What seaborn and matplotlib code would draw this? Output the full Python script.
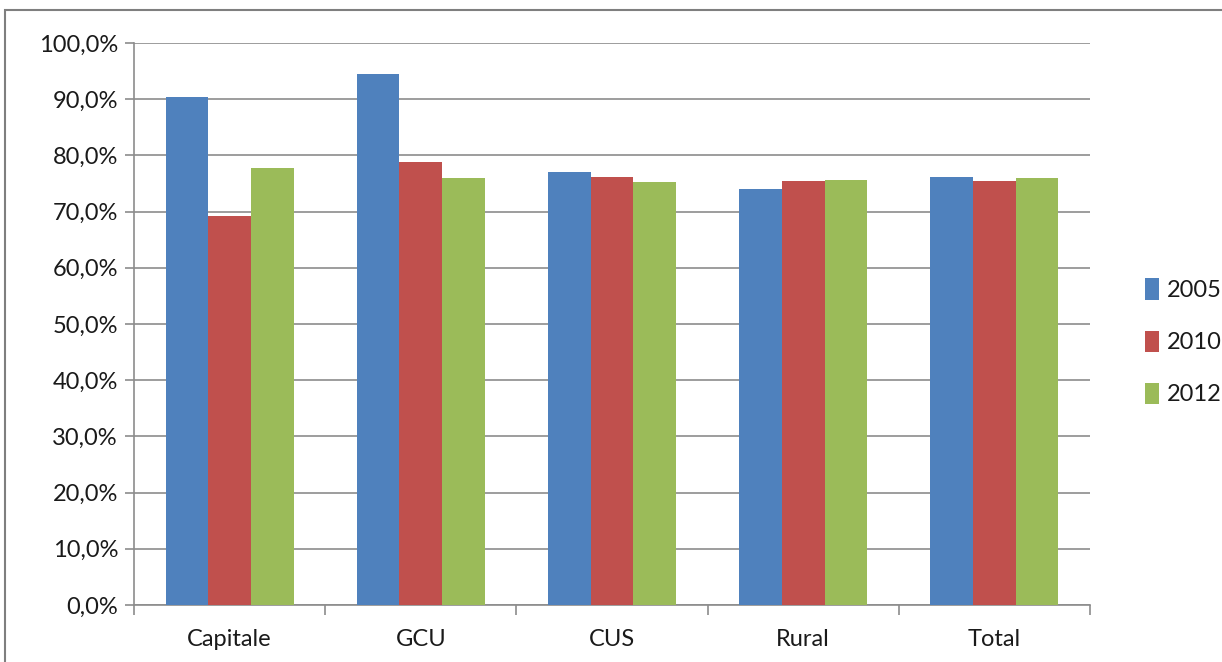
import numpy as np
import pandas as pd
import matplotlib
matplotlib.use('Agg')
import matplotlib.pyplot as plt
import seaborn as sns
from matplotlib.patches import Rectangle
from matplotlib.ticker import FuncFormatter, FixedLocator

categories = ['Capitale', 'GCU', 'CUS', 'Rural', 'Total']
years = ['2005', '2010', '2012']
v2005 = [90.4, 94.5, 77.1, 74.1, 76.2]
v2010 = [69.3, 78.9, 76.2, 75.5, 75.5]
v2012 = [77.8, 76.0, 75.3, 75.7, 76.0]
colors = ['#4F81BD', '#C0504D', '#9BBB59']

df = pd.DataFrame({
    'cat': categories * 3,
    'year': [y for y in years for _ in categories],
    'val': v2005 + v2010 + v2012,
})

sns.set_style('white')
plt.rcParams['font.family'] = ['Lato', 'DejaVu Sans']

fig = plt.figure(figsize=(12.22, 6.62), dpi=100)
ax = fig.add_axes([134 / 1222, 57 / 662, 956 / 1222, 562 / 662])

sns.barplot(data=df, x='cat', y='val', hue='year', palette=colors,
            width=0.67, saturation=1, ax=ax, zorder=3)
for p in ax.patches:
    p.set_edgecolor('none')

ax.set_ylim(0, 100)
ax.set_xlim(-0.5, 4.5)
ax.set_yticks(np.arange(0, 101, 10))
ax.yaxis.set_major_formatter(FuncFormatter(lambda v, _: f'{v:.1f}%'.replace('.', ',')))
ax.grid(axis='y', color='#8C8C8C', linewidth=1.2, zorder=0)
ax.set_axisbelow(True)
ax.set_xlabel('')
ax.set_ylabel('')

for s in ['top', 'right']:
    ax.spines[s].set_visible(False)
for s in ['left', 'bottom']:
    ax.spines[s].set_color('#8C8C8C')
    ax.spines[s].set_linewidth(1.2)

ax.tick_params(axis='y', length=6.5, width=1.2, color='#8C8C8C', direction='out',
               labelsize=17, pad=5, left=True, labelcolor='#1a1a1a')
ax.tick_params(axis='x', which='major', length=0, labelsize=17, pad=17, labelcolor='#1a1a1a')
ax.xaxis.set_minor_locator(FixedLocator(np.arange(-0.5, 5, 1)))
ax.tick_params(axis='x', which='minor', length=7, width=1.2, color='#8C8C8C',
               direction='out', bottom=True)

ax.legend(loc='center left', bbox_to_anchor=(990 / 956, 0.468), frameon=False,
          fontsize=17, handlelength=0.6, handleheight=1.0, handletextpad=0.3,
          labelspacing=1.25, labelcolor='#1a1a1a')

fig.patches.append(Rectangle((5 / 1222, -0.05), 1.1, 1 - 10 / 662 + 0.05,
                             transform=fig.transFigure, fill=False,
                             edgecolor='#7F7F7F', linewidth=1.5))

fig.savefig('out.png', dpi=100)
